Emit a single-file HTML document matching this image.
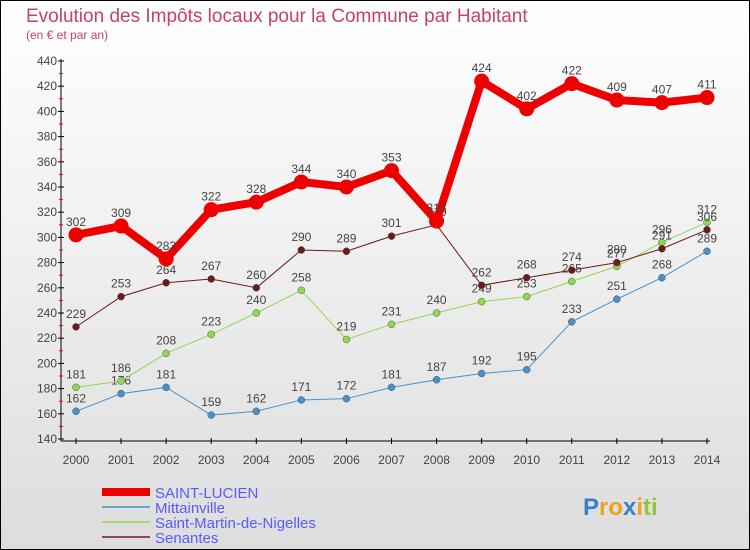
<!DOCTYPE html>
<html><head><meta charset="utf-8"><style>
body{margin:0;width:750px;height:550px;overflow:hidden;font-family:"Liberation Sans",sans-serif}
#wrap{position:absolute;left:0;top:0;width:748px;height:548px;border:1px solid #000;background:linear-gradient(#fff,#ddd)}
</style></head><body>
<div id="wrap">
<svg id="chart" width="750" height="550" style="position:absolute;left:-1px;top:-1px"></svg>
</div>
<script>
const years=[2000,2001,2002,2003,2004,2005,2006,2007,2008,2009,2010,2011,2012,2013,2014];
const stLucien=[302,309,283,322,328,344,340,353,313,424,402,422,409,407,411];
const mittainville=[162,176,181,159,162,171,172,181,187,192,195,233,251,268,289];
const stMartin=[181,186,208,223,240,258,219,231,240,249,253,265,277,296,312];
const senantes=[229,253,264,267,260,290,289,301,310,262,268,274,280,291,306];
const yTicks=[140,160,180,200,220,240,260,280,300,320,340,360,380,400,420,440];
const names=["SAINT-LUCIEN","Mittainville","Saint-Martin-de-Nigelles","Senantes"];
const NS="http://www.w3.org/2000/svg";
const svg=document.getElementById('chart');
const X=i=>76+i*(707-76)/14;
const Y=v=>439-(v-140)*(439-61)/300;
function el(t,a,txt){const e=document.createElementNS(NS,t);for(const k in a)e.setAttribute(k,a[k]);if(txt!==undefined)e.textContent=txt;svg.appendChild(e);return e;}
let t=el('text',{x:26,y:22,'font-size':19,fill:'#c8406a'},'Evolution des Impôts locaux pour la Commune par Habitant');


t=el('text',{x:26,y:39,'font-size':12,fill:'#c8406a'},'(en € et par an)');


let a=el('line',{x1:61,y1:59,x2:61,y2:441,stroke:'#000'});


a=el('line',{x1:61,y1:441,x2:710,y2:441,stroke:'#000'});


yTicks.forEach(v=>{
 el('line',{x1:58,y1:Y(v),x2:64,y2:Y(v),stroke:'#000'});
 if(v<440)el('line',{x1:59,y1:Y(v+10),x2:63,y2:Y(v+10),stroke:'#e00'});
 const l=el('text',{x:57,y:Y(v)+4,'font-size':12,fill:'#444','text-anchor':'end'},v);
 
 
});
years.forEach((y,i)=>{
 el('line',{x1:X(i),y1:438,x2:X(i),y2:444,stroke:'#000'});
 const l=el('text',{x:X(i),y:464,'font-size':12,fill:'#444','text-anchor':'middle'},y);
 
 
});
const series=[
 {d:mittainville,c:'#4a90c8',w:1,r:3.5,n:'mittainville'},
 {d:stMartin,c:'#8fd850',w:1,r:3.5,n:'saint-martin-de-nigelles'},
 {d:senantes,c:'#6a1a1a',w:1,r:3.5,n:'senantes'},
 {d:stLucien,c:'#ee0000',w:8,r:7.5,n:'saint-lucien'}];
series.forEach(s=>{
 const p=el('polyline',{points:s.d.map((v,i)=>X(i)+','+Y(v)).join(' '),fill:'none',stroke:s.c,'stroke-width':s.w});
 
 
 s.d.forEach((v,i)=>{
  const c=el('circle',{cx:X(i),cy:Y(v),r:s.r,fill:s.c,stroke:s.w>1?'none':'#555','stroke-width':0.5});
  
  
  const l=el('text',{x:X(i),y:Y(v)-9,'font-size':12,fill:'#444','text-anchor':'middle'},v);
  
  
 });
});
const leg=[['#ee0000',8],['#4a90c8',1.5],['#8fd850',1.5],['#6a1a1a',1.5]];
leg.forEach((l,i)=>{
 const yy=492+i*15;
 const ln=el('line',{x1:102,y1:yy,x2:150,y2:yy,stroke:l[0],'stroke-width':l[1]});
 
 
 const tx=el('text',{x:155,y:yy+6,'font-size':15,fill:'#5a5aff'},names[i]);
 
 
});
const logo=el('text',{x:583,y:515,'font-size':24,'font-weight':'bold',fill:'#f0a020'},'');


[['P','#3a80c8'],['ro','#f0a020'],['x','#3a80c8'],['i','#f0a020'],['ti','#8cc840']].forEach(p=>{
 const s=document.createElementNS(NS,'tspan');s.setAttribute('fill',p[1]);s.textContent=p[0];logo.appendChild(s);
});
</script>
</body></html>
